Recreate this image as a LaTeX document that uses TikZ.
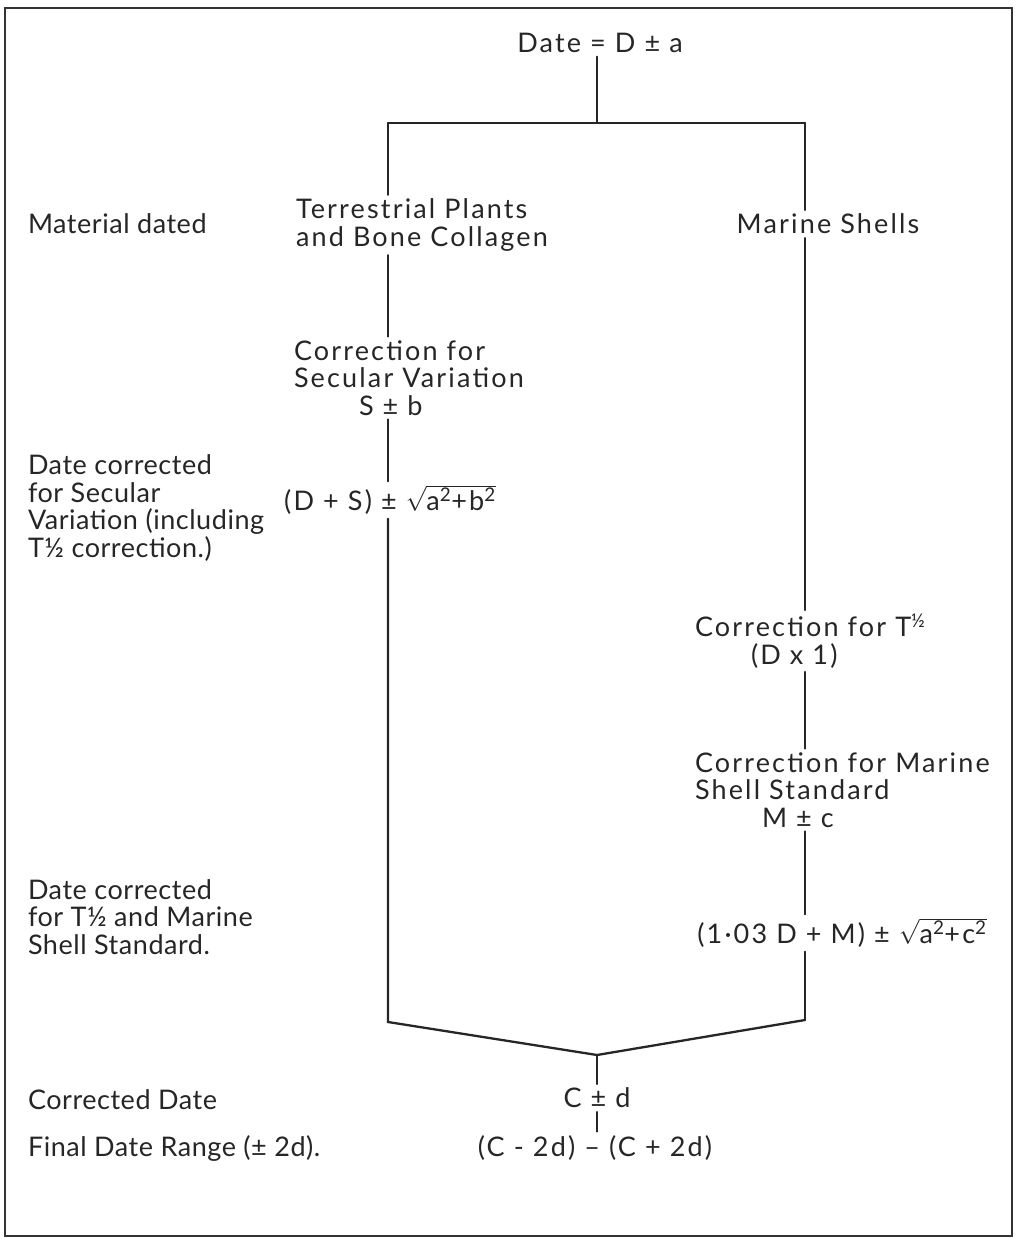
\documentclass[tikz,border=0pt]{standalone}
\usepackage{fontspec}
\setmainfont{Lato}
\newfontfamily\spacedfont{Lato}[LetterSpace=8]
\newfontfamily\sidefont{Lato}[LetterSpace=2]
\begin{document}
\begin{tikzpicture}[x=1pt,y=-1pt,
  lab/.style={font=\fontsize{27}{27.5}\spacedfont, inner sep=4pt, outer sep=0pt, align=left, text=black!85},
  side/.style={font=\fontsize{27}{27.5}\sidefont, inner sep=4pt, outer sep=0pt, align=left, text=black!85, anchor=west},
  conn/.style={line width=2.3pt, line cap=round, black!85},
]
\useasboundingbox (0,0) rectangle (1017,1238);
\draw[line width=1.3pt, black!80] (5,8) rectangle (1012,1236);

% top
\node[lab] (date) at (600,43) {Date = D ± a};
\coordinate (split) at (597,123);
\coordinate (tl) at (388,123);
\coordinate (tr) at (805,123);
\draw[conn] (date.south -| split) -- (split);
\draw[conn] (tl) -- (tr);

% left branch
\node[lab, anchor=west] (terr) at (292,225) {Terrestrial Plants\\and Bone Collagen};
\node[lab, anchor=west] (secv) at (290,378) {Correction for\\Secular Variation\\\hspace*{65pt}S ± b};
\node[lab] (ds) at (390,500) {(D + S) ± $\sqrt{\mbox{a\textsuperscript{2}+b\textsuperscript{2}}}$};

% right branch
\node[lab] (marine) at (828,224) {Marine Shells};
\node[lab, anchor=west] (thalf) at (691,641) {Correction for T\textsuperscript{½}\\\hspace*{56pt}(D x 1)};
\node[lab, anchor=west] (mss) at (691,790) {Correction for Marine\\Shell Standard\\\hspace*{67pt}M ± c};
\node[lab] (mds) at (842,933) {(1·03 D + M) ± $\sqrt{\mbox{a\textsuperscript{2}+c\textsuperscript{2}}}$};

% join
\coordinate (bl) at (388,1022);
\coordinate (apex) at (597,1055);
\coordinate (br) at (805,1020);
\node[lab] (cd) at (597,1098) {C ± d};
\node[lab] (range) at (595,1148) {(C - 2d) – (C + 2d)};

\draw[conn] (tl) -- (tl |- terr.north);
\draw[conn] (tl |- terr.south) -- (tl |- secv.north);
\draw[conn] (tl |- secv.south) -- (tl |- ds.north);
\draw[conn] (tl |- ds.south) -- (bl) -- (apex) -- (br);

\draw[conn] (tr) -- (tr |- marine.north);
\draw[conn] (tr |- marine.south) -- (tr |- thalf.north);
\draw[conn] (tr |- thalf.south) -- (tr |- mss.north);
\draw[conn] (tr |- mss.south) -- (tr |- mds.north);
\draw[conn] (tr |- mds.south) -- (br);

\draw[conn] (apex) -- (apex |- cd.north);
\draw[conn] (apex |- cd.south) -- (apex |- range.north);

% left labels
\node[side] (mat) at (24,224) {Material dated};
\node[side] (dcs) at (24,508) {Date corrected\\for Secular\\Variation (including\\T½ correction.)};
\node[side] (dct) at (24,917) {Date corrected\\for T½ and Marine\\Shell Standard.};
\node[side] (corr) at (24,1100) {Corrected Date};
\node[side] (final) at (24,1148) {Final Date Range (± 2d).};
\end{tikzpicture}
\end{document}
